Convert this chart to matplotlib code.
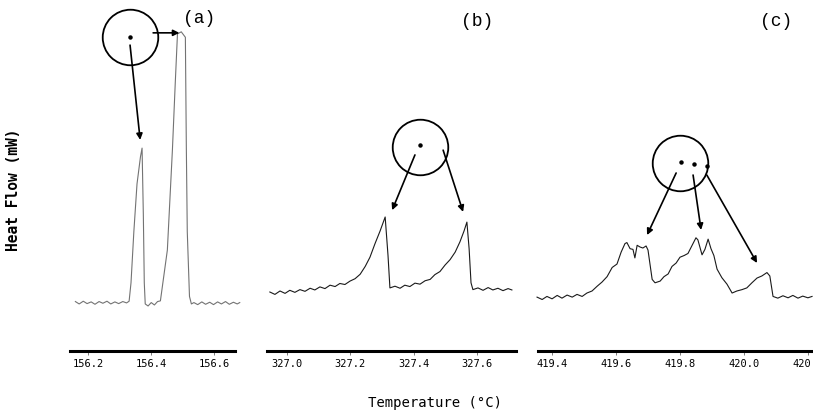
import matplotlib.pyplot as plt

# DSC traces (temperature in C, heat flow arbitrary units)
temp_a = [156.16, 156.172, 156.185, 156.197, 156.21, 156.222, 156.235, 156.247, 156.26, 156.272,
          156.285, 156.297, 156.31, 156.322, 156.33, 156.336, 156.345, 156.355, 156.366, 156.371,
          156.375, 156.378, 156.381, 156.39, 156.40, 156.41, 156.42, 156.429, 156.451, 156.467,
          156.476, 156.483, 156.495, 156.508, 156.511, 156.514, 156.521, 156.527, 156.535, 156.547,
          156.56, 156.572, 156.585, 156.597, 156.61, 156.622, 156.635, 156.647, 156.66, 156.672, 156.68]
flow_a = [14.5, 13.8, 14.6, 13.9, 14.4, 13.7, 14.5, 14.0, 14.6, 13.8,
          14.4, 13.9, 14.5, 14.1, 14.6, 20.0, 35.0, 49.0, 57.0, 59.5,
          40.0, 20.0, 13.8, 13.2, 14.2, 13.5, 14.5, 14.7, 29.6, 59.0,
          78.6, 93.0, 93.6, 92.0, 60.0, 35.0, 16.0, 13.8, 14.2, 13.6,
          14.4, 13.7, 14.3, 13.6, 14.4, 13.8, 14.5, 13.7, 14.3, 13.8, 14.2]

temp_b = [326.946, 326.962, 326.978, 326.994, 327.009, 327.025, 327.041, 327.057, 327.073, 327.088,
          327.104, 327.12, 327.136, 327.152, 327.167, 327.183, 327.199, 327.215, 327.231, 327.247,
          327.262, 327.278, 327.294, 327.31, 327.319, 327.325, 327.341, 327.357, 327.372, 327.388,
          327.404, 327.42, 327.436, 327.452, 327.467, 327.483, 327.499, 327.515, 327.531, 327.546,
          327.559, 327.568, 327.575, 327.581, 327.587, 327.603, 327.619, 327.635, 327.65, 327.666,
          327.682, 327.698, 327.71]
flow_b = [17.3, 16.6, 17.6, 16.9, 17.8, 17.2, 18.0, 17.5, 18.4, 17.9,
          18.8, 18.3, 19.3, 18.9, 19.8, 19.5, 20.5, 21.2, 22.5, 24.8,
          27.5, 31.5, 35.2, 39.3, 28.0, 18.5, 19.0, 18.4, 19.3, 18.9,
          19.9, 19.6, 20.6, 21.0, 22.4, 23.3, 25.2, 26.8, 29.0, 32.0,
          35.2, 37.8, 30.0, 20.0, 18.0, 18.5, 17.8, 18.6, 17.9, 18.4,
          17.7, 18.3, 17.9]

temp_c = [419.353, 419.369, 419.384, 419.400, 419.416, 419.431, 419.447, 419.463, 419.478, 419.494,
          419.509, 419.525, 419.541, 419.556, 419.572, 419.588, 419.603, 419.616, 419.628, 419.634,
          419.644, 419.653, 419.659, 419.666, 419.675, 419.684, 419.694, 419.70, 419.713, 419.722,
          419.738, 419.75, 419.763, 419.775, 419.788, 419.80, 419.813, 419.825, 419.838, 419.85,
          419.856, 419.869, 419.878, 419.888, 419.897, 419.906, 419.916, 419.931, 419.947, 419.963,
          419.978, 419.994, 420.009, 420.025, 420.041, 420.056, 420.072, 420.081, 420.091, 420.106,
          420.122, 420.138, 420.153, 420.169, 420.184, 420.20, 420.213]
flow_c = [15.8, 15.1, 16.0, 15.3, 16.3, 15.5, 16.4, 15.8, 16.6, 16.0,
          17.0, 17.6, 19.0, 20.2, 21.8, 24.5, 25.5, 29.0, 31.5, 31.8,
          30.0, 29.8, 27.3, 31.0, 30.5, 30.2, 30.8, 29.6, 21.0, 20.0,
          20.5, 21.8, 22.6, 24.8, 25.8, 27.5, 28.0, 28.6, 31.0, 33.2,
          32.6, 28.2, 29.8, 32.8, 30.0, 28.0, 24.0, 21.5, 19.6, 17.0,
          17.6, 18.0, 18.5, 20.0, 21.4, 22.0, 23.0, 22.0, 16.0, 15.5,
          16.2, 15.6, 16.3, 15.5, 16.1, 15.6, 16.0]

ticks_a = [156.2, 156.4, 156.6]
ticks_b = [327.0, 327.2, 327.4, 327.6]
ticks_c = [419.4, 419.6, 419.8, 420.0, 420.2]
labels_a = ["156.2", "156.4", "156.6"]
labels_b = ["327.0", "327.2", "327.4", "327.6"]
labels_c = ["419.4", "419.6", "419.8", "420.0", "420.2"]
xlims = [(156.143, 156.665), (326.937, 327.723), (419.356, 420.216)]
panel_names = ["(a)", "(b)", "(c)"]

# annotation circles (centre), dots inside them, and arrows (start, tip)
circles = [(156.333, 92.1), (327.420, 59.8), (419.800, 55.1)]
dots = [[(156.333, 92.1)], [(327.420, 60.4)],
        [(419.803, 55.4), (419.844, 54.8), (419.884, 54.3)]]
arrows = [
    [((156.333, 89.7), (156.365, 61.9)), ((156.406, 93.3), (156.489, 93.3))],
    [((327.404, 57.5), (327.332, 41.3)), ((327.493, 58.9), (327.556, 40.8))],
    [((419.788, 52.2), (419.697, 34.0)), ((419.841, 51.6), (419.866, 35.5)),
     ((419.884, 51.6), (420.041, 25.8))],
]

fig = plt.figure(figsize=(8.13, 4.16), dpi=100)
bottom = 65 / 416
height = 341 / 416
rects = [(70 / 813, bottom, 165 / 813, height),
         (267 / 813, bottom, 249 / 813, height),
         (538 / 813, bottom, 275 / 813, height)]

series = [(temp_a, flow_a, "0.45"), (temp_b, flow_b, "0.1"), (temp_c, flow_c, "0.1")]
ticks = [ticks_a, ticks_b, ticks_c]
labels = [labels_a, labels_b, labels_c]
label_pos = [(156.55, 97.5), (327.60, 96.5), (420.10, 96.5)]

for i, rect in enumerate(rects):
    ax = fig.add_axes(rect)
    t, f, col = series[i]
    ax.plot(t, f, color=col, lw=0.8, clip_on=False)
    ax.set_xlim(*xlims[i])
    ax.set_ylim(0, 100)
    for s in ["top", "right", "left"]:
        ax.spines[s].set_visible(False)
    ax.spines["bottom"].set_linewidth(2.2)
    ax.set_yticks([])
    ax.set_xticks(ticks[i])
    ax.set_xticklabels(labels[i], family="DejaVu Sans Mono", fontsize=7.5)
    ax.tick_params(axis="x", length=3, width=0.6, color="0.4", pad=3)

    cx, cy = circles[i]
    ax.plot([cx], [cy], "o", ms=40, mfc="none", mec="black", mew=1.3, clip_on=False)
    for dx, dy in dots[i]:
        ax.plot([dx], [dy], "o", ms=2.2, color="black", clip_on=False)
    for start, tip in arrows[i]:
        ax.annotate("", xy=tip, xytext=start,
                    arrowprops=dict(arrowstyle="-|>", color="black", lw=1.2,
                                    mutation_scale=9, shrinkA=0, shrinkB=0),
                    annotation_clip=False)
    lx, ly = label_pos[i]
    ax.text(lx, ly, panel_names[i], family="Liberation Mono", fontsize=13,
            ha="center", va="center")

fig.text(14 / 813, 1 - 190 / 416, "Heat Flow (mW)", rotation=90, ha="center", va="center",
         family="DejaVu Sans Mono", fontweight="bold", fontsize=10.5)
fig.text(435 / 813, 1 - 403 / 416, "Temperature (\u00b0C)", ha="center", va="center",
         family="DejaVu Sans Mono", fontsize=10)

fig.savefig("out.png", dpi=100)
